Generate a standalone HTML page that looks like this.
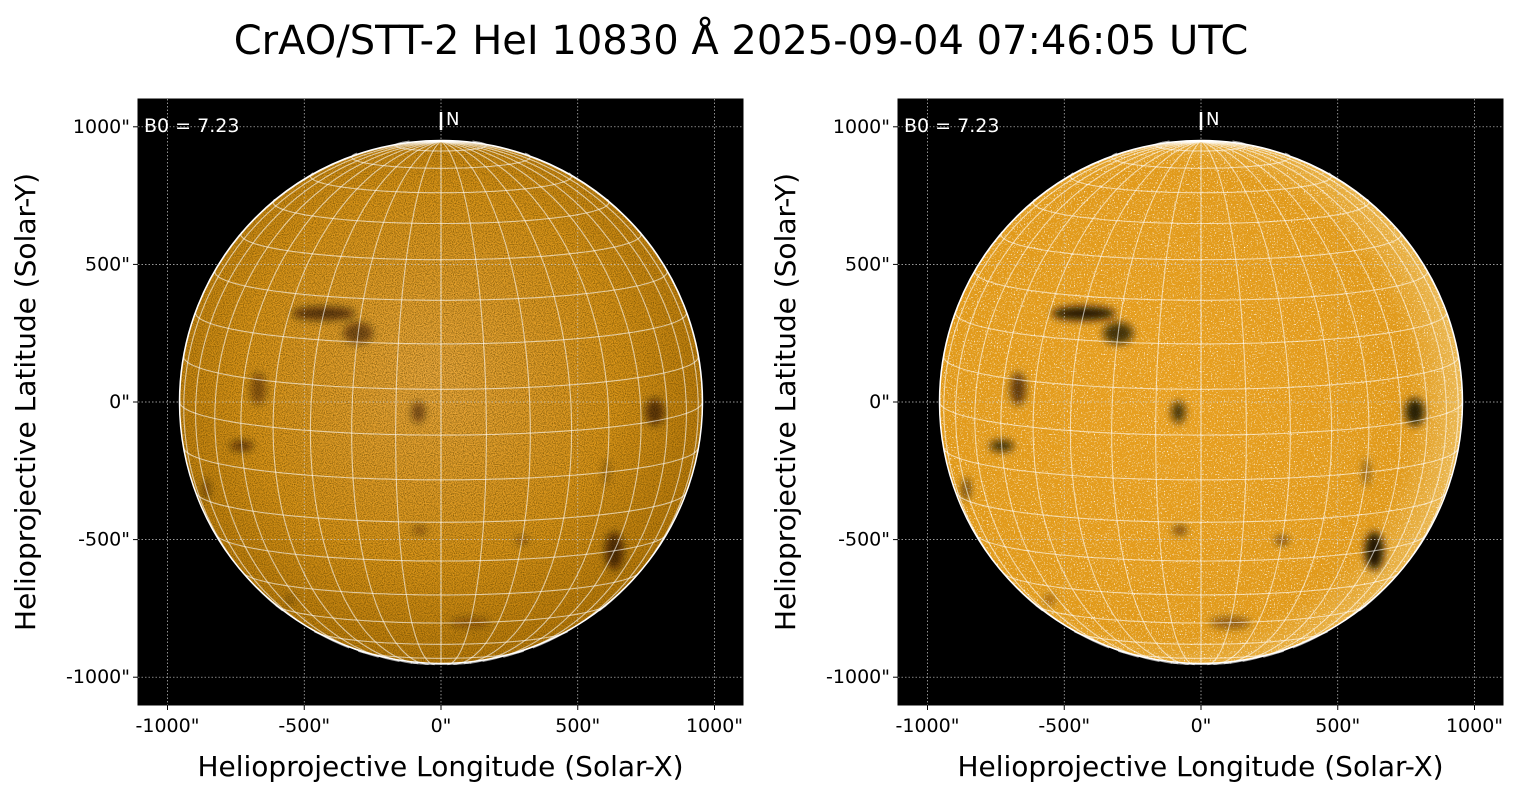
<!DOCTYPE html>
<html><head><meta charset="utf-8">
<style>
body{margin:0;background:#fff;width:1520px;height:795px;overflow:hidden;font-family:"DejaVu Sans","Liberation Sans",sans-serif;}
svg text{font-family:"DejaVu Sans","Liberation Sans",sans-serif;}
</style></head>
<body>
<svg id="fig" width="1520" height="795" xmlns="http://www.w3.org/2000/svg">
<defs>
<radialGradient id="diskL" cx="0.48" cy="0.45" r="0.6">
<stop offset="0" stop-color="#eeab3e"/><stop offset="0.6" stop-color="#dc9618"/><stop offset="1" stop-color="#b27406"/>
</radialGradient>
<radialGradient id="diskR" cx="0.45" cy="0.5" r="0.6">
<stop offset="0" stop-color="#e8a020"/><stop offset="0.75" stop-color="#e19a1a"/><stop offset="1" stop-color="#f0c870"/>
</radialGradient>
<filter id="noiseL" x="0" y="0" width="100%" height="100%">
<feTurbulence type="fractalNoise" baseFrequency="0.9" numOctaves="2" seed="3" result="n"/>
<feColorMatrix in="n" type="matrix" values="0 0 0 0 0.1  0 0 0 0 0.05  0 0 0 0 0  0 0 0 -1.6 1.0" result="d"/>
<feComposite in="d" in2="SourceGraphic" operator="in"/>
</filter>
<filter id="noiseR" x="0" y="0" width="100%" height="100%">
<feTurbulence type="fractalNoise" baseFrequency="0.7" numOctaves="2" seed="7" result="n"/>
<feColorMatrix in="n" type="matrix" values="0 0 0 0 1  0 0 0 0 1  0 0 0 0 1  0 0 0 4 -2.35" result="d"/>
<feComposite in="d" in2="SourceGraphic" operator="in"/>
</filter>
<filter id="blur"><feGaussianBlur stdDeviation="4"/></filter>
</defs>
<text x="741" y="54" font-size="40" text-anchor="middle" fill="#000">CrAO/STT-2 HeI 10830 Å 2025-09-04 07:46:05 UTC</text>
</svg>
<script>
const xTicks=[-1000,-500,0,500,1000];
const yTicks=[1000,500,0,-500,-1000];
const tickLabels=['-1000"','-500"','0"','500"','1000"'];
const lonLines=[-80,-70,-60,-50,-40,-30,-20,-10,0,10,20,30,40,50,60,70,80,90,-90];
const latLines=[-80,-70,-60,-50,-40,-30,-20,-10,0,10,20,30,40,50,60,70,80];
const B0=7.23;
const rsun=955;
// dark features: [lon, lat, rx(arcsec), ry, darkness]
const features=[[-30,26,140,25,0.75],[-20,22,60,40,0.6],[-45,8,40,60,0.5],[-50,-5,70,20,0.65],[-5,5,25,40,0.6],[55,2,60,50,0.7],[50,-30,70,70,0.75],[-70,-17,40,40,0.6],[20,-25,30,15,0.5],[-5,-22,30,15,0.5],[40,-10,15,50,0.4],[-55,-45,60,20,0.3],[10,-50,140,20,0.35]];
const panels=[{x0:138,name:'left',grad:'diskL',noise:'noiseL',dk:0.85},{x0:898,name:'right',grad:'diskR',noise:'noiseR',dk:1.25}];
const NS='http://www.w3.org/2000/svg';
const fig=document.getElementById('fig');
function mk(tag,attrs,parent){const e=document.createElementNS(NS,tag);for(const k in attrs)e.setAttribute(k,attrs[k]);(parent||fig).appendChild(e);return e;}
const W=605,H=606,y0=99;
const b=B0*Math.PI/180;
function proj(lon,lat){const l=lon*Math.PI/180,p=lat*Math.PI/180;
 const x=Math.cos(p)*Math.sin(l);const y=Math.sin(p)*Math.cos(b)-Math.cos(p)*Math.cos(l)*Math.sin(b);
 const z=Math.sin(p)*Math.sin(b)+Math.cos(p)*Math.cos(l)*Math.cos(b);return [x*rsun,y*rsun,z];}
panels.forEach((P,pi)=>{
 const sx=v=>P.x0+303+v*0.2735;
 const sy=v=>y0+303-v*0.2752;
 const g=mk('g',{});
 
 
 const bg=mk('rect',{x:P.x0,y:y0,width:W,height:H,fill:'#000',stroke:'#000'},g);
 
 
 const cx=sx(0),cy=sy(0),R=rsun*0.2738;
 const disk=mk('circle',{cx:cx,cy:cy,r:R,fill:'url(#'+P.grad+')'},g);
 
 
 const nz=mk('circle',{cx:cx,cy:cy,r:R,fill:'#fff',filter:'url(#'+P.noise+')'},g);
 
 
 const fg=mk('g',{filter:'url(#blur)'},g);
 features.forEach(f=>{const p=proj(f[0],f[1]);
  const e=mk('ellipse',{cx:sx(p[0]),cy:sy(p[1]),rx:f[2]*0.2735*Math.max(0.3,p[2]),ry:f[3]*0.2735,fill:'#140a00','fill-opacity':Math.min(1,f[4]*P.dk)},fg);
  
  });
 xTicks.forEach(t=>{const l=mk('line',{x1:sx(t),x2:sx(t),y1:y0,y2:y0+H,stroke:'#ccc','stroke-width':0.7,'stroke-dasharray':'1.5,2'},g);
  });
 yTicks.forEach(t=>{const l=mk('line',{x1:P.x0,x2:P.x0+W,y1:sy(t),y2:sy(t),stroke:'#ccc','stroke-width':0.7,'stroke-dasharray':'1.5,2'},g);
  });
 const hg=mk('g',{stroke:'#fff','stroke-opacity':0.6,'stroke-width':1.1,fill:'none'},g);
 lonLines.forEach(lo=>{let d='',pen=false;for(let la=-90;la<=90;la+=2){const p=proj(lo,la);if(p[2]>=0){d+=(pen?'L':'M')+sx(p[0]).toFixed(1)+','+sy(p[1]).toFixed(1);pen=true;}else pen=false;}
  const e=mk('path',{d:d},hg);});
 latLines.forEach(la=>{let d='',pen=false;for(let lo=-180;lo<=180;lo+=2){const p=proj(lo,la);if(p[2]>=0){d+=(pen?'L':'M')+sx(p[0]).toFixed(1)+','+sy(p[1]).toFixed(1);pen=true;}else pen=false;}
  const e=mk('path',{d:d},hg);});
 const limb=mk('circle',{cx:cx,cy:cy,r:R,fill:'none',stroke:'#fff','stroke-width':1.5},g);
 
 const nl=mk('line',{x1:cx,x2:cx,y1:112,y2:130,stroke:'#fff','stroke-width':2.5},g);
 
 const nt=mk('text',{x:cx+5,y:125,fill:'#fff','font-size':18},g);nt.textContent='N';
 
 const bt=mk('text',{x:P.x0+6,y:132,fill:'#fff','font-size':19},g);bt.textContent='B0 = 7.23';
 
 xTicks.forEach((t,i)=>{mk('line',{x1:sx(t),x2:sx(t),y1:y0+H,y2:y0+H+5,stroke:'#000'},g);
  const tx=mk('text',{x:sx(t),y:732,'font-size':19,'text-anchor':'middle',fill:'#000'},g);tx.textContent=tickLabels[i];
  });
 yTicks.forEach((t,i)=>{mk('line',{x1:P.x0-5,x2:P.x0,y1:sy(t),y2:sy(t),stroke:'#000'},g);
  const tx=mk('text',{x:P.x0-8,y:sy(t)+6,'font-size':19,'text-anchor':'end',fill:'#000'},g);tx.textContent=tickLabels[4-i];
  });
 const xl=mk('text',{x:P.x0+W/2,y:776,'font-size':28,'text-anchor':'middle',fill:'#000'},g);xl.textContent='Helioprojective Longitude (Solar-X)';
 
 const yx=P.x0-103,yy=y0+H/2;
 const yl=mk('text',{x:yx,y:yy,'font-size':28,'text-anchor':'middle',fill:'#000',transform:'rotate(-90 '+yx+' '+yy+')'},g);yl.textContent='Helioprojective Latitude (Solar-Y)';
 
});
</script>
</body></html>
